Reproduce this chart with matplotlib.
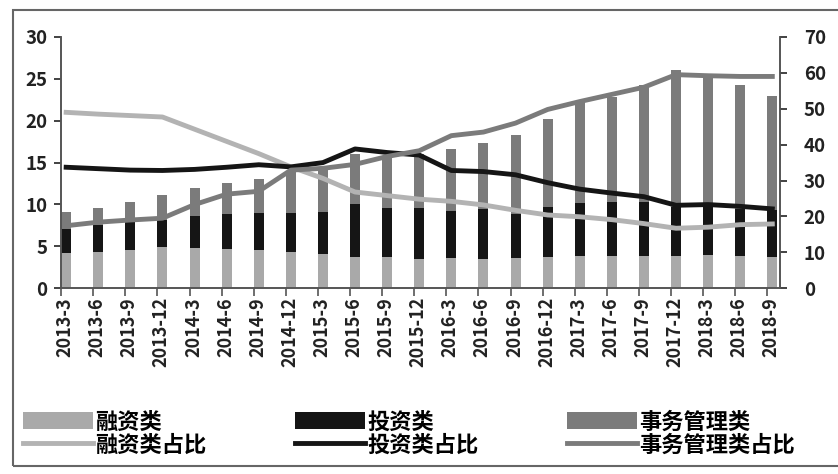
import numpy as np
import matplotlib.pyplot as plt
from matplotlib.patches import Rectangle

plt.rcParams['font.family'] = ['Noto Sans CJK SC', 'DejaVu Sans']

# categories
quarters = ['2013-3', '2013-6', '2013-9', '2013-12', '2014-3', '2014-6', '2014-9', '2014-12',
            '2015-3', '2015-6', '2015-9', '2015-12', '2016-3', '2016-6', '2016-9', '2016-12',
            '2017-3', '2017-6', '2017-9', '2017-12', '2018-3', '2018-6', '2018-9']

# bar values (left axis)
rongzi = [4.2, 4.3, 4.6, 4.9, 4.75, 4.65, 4.6, 4.35, 4.1, 3.7, 3.75, 3.5,
          3.65, 3.5, 3.6, 3.75, 3.8, 3.8, 3.9, 3.9, 3.95, 3.8, 3.7]
touzi = [2.85, 3.2, 3.25, 3.25, 3.85, 4.25, 4.4, 4.65, 5.05, 6.4, 5.85, 6.1,
         5.55, 6.0, 5.3, 5.95, 6.35, 6.55, 6.4, 5.75, 5.85, 5.65, 5.6]
shiwu = [2.05, 2.1, 2.45, 3.0, 3.4, 3.7, 4.05, 5.0, 5.35, 5.9, 6.0, 6.4,
         7.45, 7.8, 9.35, 10.5, 12.05, 12.45, 14.0, 16.45, 15.7, 14.85, 13.7]

# shares in % (right axis)
rongzi_pct = [49.0, 48.5, 48.1, 47.7, 44.3, 40.9, 37.5, 33.8, 30.6, 26.8, 25.8, 24.8,
              24.2, 23.2, 21.7, 20.4, 19.9, 19.1, 18.0, 16.7, 17.0, 17.7, 17.9]
touzi_pct = [33.7, 33.3, 32.9, 32.8, 33.1, 33.7, 34.4, 33.8, 35.0, 38.8, 37.8, 37.1,
             32.8, 32.5, 31.6, 29.4, 27.6, 26.5, 25.5, 23.1, 23.3, 22.8, 22.1]
shiwu_pct = [17.4, 18.4, 19.0, 19.5, 23.3, 26.2, 27.0, 32.9, 33.4, 34.5, 36.7, 38.3,
             42.5, 43.5, 46.0, 49.8, 52.0, 54.0, 56.0, 59.5, 59.2, 59.0, 59.0]

c_light = '#a9a9a9'
c_dark = '#7b7b7b'
c_black = '#151515'

fig = plt.figure(figsize=(8.38, 4.74), dpi=100)
ax = fig.add_axes([0.073, 0.392, 0.858, 0.53])
ax2 = ax.twinx()

x = np.arange(len(quarters))
w = 0.31
b1 = ax.bar(x, rongzi, w, align='edge', color=c_light, label='融资类')
b2 = ax.bar(x, touzi, w, bottom=rongzi, align='edge', color=c_black, label='投资类')
b3 = ax.bar(x, shiwu, w, bottom=np.add(rongzi, touzi), align='edge', color=c_dark, label='事务管理类')

xm = x + w / 2
l1, = ax2.plot(xm, rongzi_pct, color='#b3b3b3', lw=3.5, label='融资类占比')
l2, = ax2.plot(xm, touzi_pct, color=c_black, lw=3.5, label='投资类占比')
l3, = ax2.plot(xm, shiwu_pct, color=c_dark, lw=3.5, label='事务管理类占比')

ax.set_xlim(0, 22.4)
ax.set_ylim(0, 30)
ax.set_yticks(range(0, 31, 5))
ax2.set_ylim(0, 70)
ax2.set_yticks(range(0, 71, 10))

ax.set_xticks(x)
ax.set_xticklabels([])
for i, q in enumerate(quarters):
    ax.text(i + 0.12, -0.035, q, transform=ax.get_xaxis_transform(), rotation=90,
            ha='center', va='top', fontsize=13, fontweight='bold', color='#222222')

for a in (ax, ax2):
    a.spines['top'].set_visible(False)
    for s in a.spines.values():
        s.set_color('#555555')
        s.set_linewidth(1.2)
ax.tick_params(axis='y', length=5, width=1.2, pad=5, labelsize=13.5, colors='#222222')
ax.tick_params(axis='x', length=6, width=1.2, color='#555555')
ax2.tick_params(axis='y', length=5, width=1.2, pad=12, labelsize=13.5, colors='#222222')
for t in ax.get_yticklabels() + ax2.get_yticklabels():
    t.set_fontweight('bold')

handles = [b1, l1, b2, l2, b3, l3]
fig.legend(handles, [h.get_label() for h in handles], ncol=3, loc='upper left',
           bbox_to_anchor=(0.027, 0.134), frameon=False,
           prop={'size': 16, 'weight': 'bold'},
           handlelength=3.15, handleheight=0.8, handletextpad=0.1,
           columnspacing=4.0, labelspacing=0.0, borderpad=0, borderaxespad=0)

# scanned chart border
fig.patches.append(Rectangle((13 / 838, 8 / 474), 1.0, 1 - 18 / 474, transform=fig.transFigure,
                             fill=False, edgecolor='#666666', lw=1.5))

fig.savefig('out.png', dpi=100)
